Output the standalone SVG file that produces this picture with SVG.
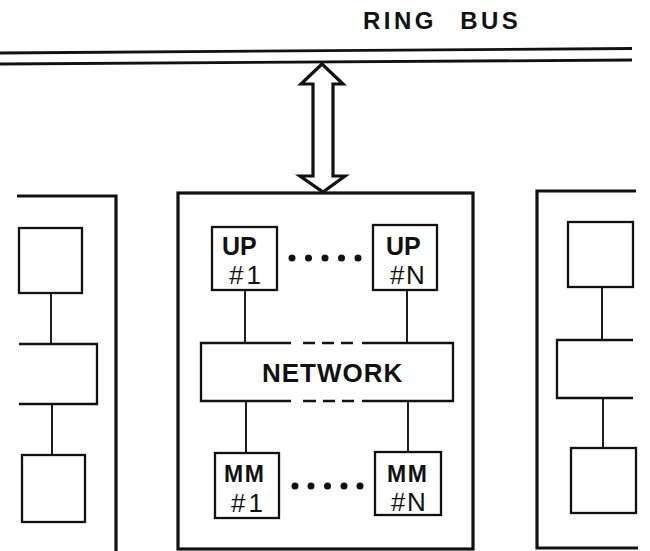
<svg xmlns="http://www.w3.org/2000/svg" width="650" height="551" viewBox="0 0 650 551">
<style>
.outer{fill:none;stroke:#111;stroke-width:3.2;stroke-linejoin:miter}
.box{fill:#fff;stroke:#111;stroke-width:2.3}
.ln{fill:none;stroke:#111;stroke-width:1.9}
.bus{fill:none;stroke:#111;stroke-width:2.8}
.b{font-family:"Liberation Sans",Arial,sans-serif;font-weight:bold;fill:#111}
.r{font-family:"Liberation Sans",Arial,sans-serif;fill:#111}
.dot{fill:#111}
</style>
<rect width="650" height="551" fill="#fff"/>
<g id="ring-bus">
<line class="bus" x1="0" y1="53" x2="632" y2="48.5"/>
<line class="bus" x1="0" y1="64" x2="632" y2="60"/>
<text class="b" x="363" y="29" font-size="24" letter-spacing="3.5" word-spacing="13">RING BUS</text>
</g>
<g id="connectors">
<polygon class="outer" stroke-width="2.8" fill="#fff" points="322,64 343,84 333,84 333,176 345,176 323,192 300,176 313,176 313,84 301,84"/>
<line class="ln" x1="245" y1="290" x2="245" y2="343"/>
<line class="ln" x1="407" y1="290" x2="407" y2="343"/>
<line class="ln" x1="246" y1="401" x2="246" y2="453"/>
<line class="ln" x1="408" y1="401" x2="408" y2="452"/>
<line class="ln" x1="51" y1="293" x2="51" y2="344"/>
<line class="ln" x1="52" y1="404" x2="52" y2="455"/>
<line class="ln" x1="602" y1="287" x2="602" y2="340"/>
<line class="ln" x1="603" y1="398" x2="603" y2="448"/>
</g>
<g id="cluster-left">
<path class="outer" d="M17,196 H116 V551"/>
<rect class="box" x="19" y="228" width="63" height="65"/>
<path class="box" fill="none" d="M19,344 H97 V404 H19"/>
<rect class="box" x="22" y="455" width="63" height="67"/>
</g>
<g id="cluster-center">
<rect class="outer" x="178" y="193" width="295" height="356"/>
</g>
<g id="network">
<path class="box" fill="none" d="M291,343 H201 V401 H291 M362,343 H453 V401 H362"/>
<path class="box" fill="none" d="M303,343 H315 M322,343 H334 M341,343 H353 M303,401 H316 M323,401 H335 M342,401 H354"/>
<text class="b" x="262" y="382" font-size="26" letter-spacing="1">NETWORK</text>
</g>
<g id="up1">
<rect class="box" x="212" y="227" width="65" height="63"/>
<text class="b" x="222" y="255" font-size="25">UP</text>
<text class="r" x="229" y="284" font-size="26" letter-spacing="3">#1</text>
</g>
<g id="upN">
<rect class="box" x="373" y="225" width="64" height="65"/>
<text class="b" x="386" y="255" font-size="25">UP</text>
<text class="r" x="390" y="284" font-size="26" letter-spacing="1.5">#N</text>
</g>
<g id="mm1">
<rect class="box" x="215" y="453" width="64" height="65"/>
<text class="b" x="224" y="482" font-size="23" letter-spacing="1.5">MM</text>
<text class="r" x="231" y="512" font-size="26" letter-spacing="3">#1</text>
</g>
<g id="mmN">
<rect class="box" x="375" y="452" width="66" height="63"/>
<text class="b" x="387" y="482" font-size="23" letter-spacing="1.5">MM</text>
<text class="r" x="391" y="511" font-size="26" letter-spacing="1.5">#N</text>
</g>
<g id="dots">
<circle class="dot" cx="292" cy="258" r="3.5"/>
<circle class="dot" cx="308.5" cy="258" r="3.5"/>
<circle class="dot" cx="325" cy="258" r="3.5"/>
<circle class="dot" cx="341.5" cy="258" r="3.5"/>
<circle class="dot" cx="358" cy="258" r="3.5"/>
<circle class="dot" cx="295" cy="486" r="3.5"/>
<circle class="dot" cx="311" cy="486" r="3.5"/>
<circle class="dot" cx="327.5" cy="486" r="3.5"/>
<circle class="dot" cx="344" cy="486" r="3.5"/>
<circle class="dot" cx="360" cy="486" r="3.5"/>
</g>
<g id="cluster-right">
<path class="outer" d="M636,191 H537 V548 H638"/>
<rect class="box" x="568" y="222" width="65" height="65"/>
<path class="box" fill="none" d="M633,340 H557 V398 H633"/>
<rect class="box" x="571" y="448" width="65" height="65"/>
</g>
</svg>
